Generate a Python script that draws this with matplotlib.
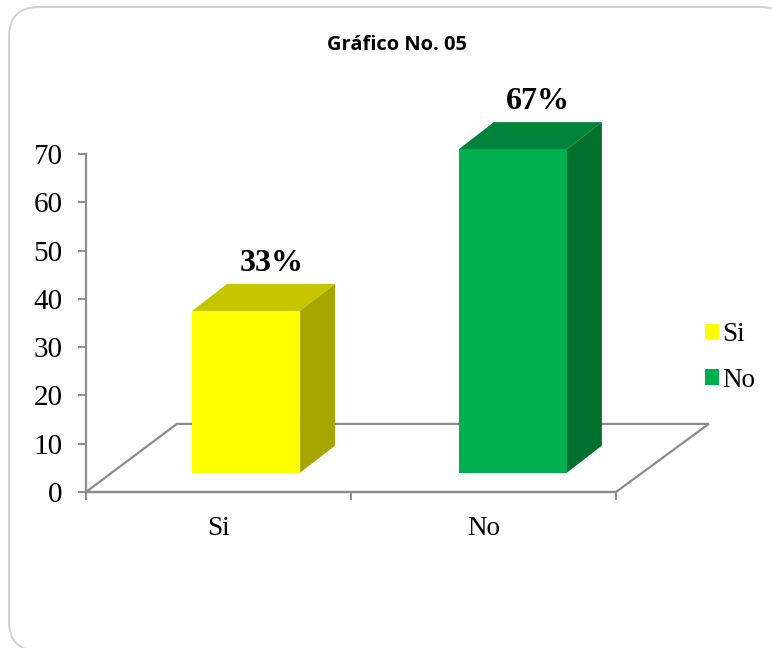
import matplotlib
matplotlib.use('Agg')
import matplotlib.pyplot as plt
from matplotlib.patches import FancyBboxPatch, Patch, Polygon

categories = ['Si', 'No']
values = [33.5, 67]
labels = ['33%', '67%']
front_colors = ['#ffff00', '#00b050']
top_colors = ['#c6c600', '#00843c']
side_colors = ['#a6a600', '#00702f']
yticks = [0, 10, 20, 30, 40, 50, 60, 70]

plt.rcParams['font.family'] = ['Liberation Serif', 'DejaVu Serif']

fig = plt.figure(figsize=(7.72, 6.48), dpi=100)

# rounded frame, in pixels
bg = fig.add_axes([0, 0, 1, 1])
bg.set_xlim(0, 772)
bg.set_ylim(648, 0)
bg.axis('off')
frame = FancyBboxPatch((9, 7), 781, 644, boxstyle='round,pad=0,rounding_size=30',
                       fc='white', ec='#d0d0d0', lw=1.4)
bg.add_patch(frame)

ax = fig.add_axes([86 / 772, 1 - 492 / 648, 530 / 772, 338 / 648])
ax.patch.set_alpha(0)
ax.set_xlim(0, 2)
ax.set_ylim(0, 70)

# depth of the 3d box and floor
base = 4
bar_w = 0.4075
dx = 0.132
dy = 5.6
floor_dx = 0.343
floor_dy = 14.1
xs = [0.5, 1.5]
shift = [0.104, 0.111]

gray = '#8c8c8c'
ax.plot([0, floor_dx, 2 + 0.35, 2, 0], [0, floor_dy, floor_dy, 0, 0], color=gray, lw=1.6,
        clip_on=False, zorder=1, solid_joinstyle='miter')

for i in range(len(values)):
    left = xs[i] + shift[i] - bar_w / 2
    right = left + bar_w
    top = base + values[i]
    ax.bar(left, values[i], width=bar_w, bottom=base, align='edge', color=front_colors[i],
           zorder=3, clip_on=False)
    ax.add_patch(Polygon([(left, top), (left + dx, top + dy), (right + dx, top + dy), (right, top)],
                         fc=top_colors[i], ec='none', zorder=3, clip_on=False))
    ax.add_patch(Polygon([(right, base), (right + dx, base + dy), (right + dx, top + dy), (right, top)],
                         fc=side_colors[i], ec='none', zorder=3, clip_on=False))
    ax.text(left + bar_w / 2 + 0.095, top + dy + 1.3, labels[i], ha='center', va='bottom',
            fontsize=23, fontweight='bold', clip_on=False)

for s in ['top', 'right']:
    ax.spines[s].set_visible(False)
for s in ['left', 'bottom']:
    ax.spines[s].set_color(gray)
    ax.spines[s].set_linewidth(1.6)

ax.set_yticks(yticks)
ax.tick_params(axis='y', labelsize=21, color=gray, width=1.4, length=6, pad=11)
ax.set_xticks([0, 1, 2])
ax.set_xticklabels([])
ax.set_xticks(xs, categories, minor=True)
ax.tick_params(axis='x', which='major', color=gray, width=1.4, length=6)
ax.tick_params(axis='x', which='minor', length=0, labelsize=19.5, pad=17)

handles = [Patch(fc=front_colors[i], label=categories[i]) for i in range(2)]
fig.legend(handles=handles, loc='center left', bbox_to_anchor=(681 / 772, 1 - 357.5 / 648), frameon=False,
           fontsize=19.5, handlelength=0.5, handleheight=0.5, handletextpad=0.12, labelspacing=0.75)

fig.text(397 / 772, 1 - 45 / 648, 'Gráfico No. 05', ha='center', va='center', fontsize=14.5,
         fontweight='bold', family='Open Sans')

fig.savefig('out.png', dpi=100)
